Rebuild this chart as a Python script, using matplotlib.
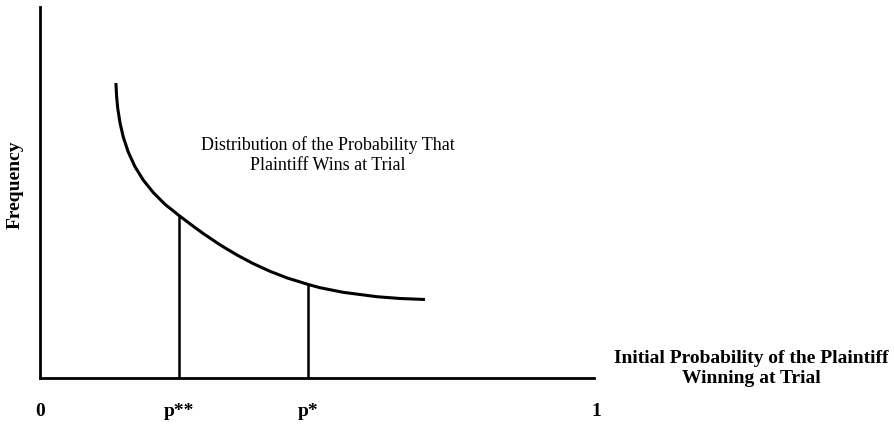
import matplotlib.pyplot as plt
import numpy as np

# curve (x: initial probability, y: relative frequency)
curve_x = [0.1365, 0.1379, 0.1397, 0.1439, 0.1498, 0.1588, 0.1709, 0.1858,
           0.2038, 0.2248, 0.2500, 0.2716, 0.2932, 0.3237, 0.3543, 0.3831,
           0.4137, 0.4442, 0.4820, 0.5036, 0.5450, 0.6061, 0.6475, 0.6924]
curve_y = [0.7951, 0.7574, 0.7278, 0.6876, 0.6493, 0.6089, 0.5693, 0.5334,
           0.4997, 0.4682, 0.4380, 0.4135, 0.3898, 0.3590, 0.3315, 0.3086,
           0.2876, 0.2698, 0.2523, 0.2434, 0.2310, 0.2191, 0.2143, 0.2116]

marker_x = [0.25, 0.482]
tick_pos = [0, 0.25, 0.482, 1]
tick_labels = ['0', 'p**', 'p*', '1']

plt.rcParams['font.family'] = ['Liberation Serif', 'DejaVu Serif']

W, H = 894, 425
fig = plt.figure(figsize=(W / 100, H / 100), dpi=100)
# axes box in pixels: x 40..596, y 7..378
ax = fig.add_axes([40 / W, (H - 378) / H, 556 / W, 371 / H])
ax.set_xlim(0, 1)
ax.set_ylim(0, 1)

for side in ['top', 'right']:
    ax.spines[side].set_visible(False)
ax.spines['left'].set_linewidth(2)
ax.spines['bottom'].set_linewidth(2)
ax.spines['bottom'].set_bounds(0, 0.996)
ax.set_xticks([])
ax.set_yticks([])

ax.plot(curve_x, curve_y, color='black', lw=2.2, solid_capstyle='butt',
        solid_joinstyle='round')

for mx in marker_x:
    top = np.interp(mx, curve_x, curve_y)
    ax.plot([mx, mx], [0, top], color='black', lw=1.8, solid_capstyle='butt')

for pos, lab in zip(tick_pos, tick_labels):
    ax.text(pos, -0.089, lab, ha='center', va='center', fontsize=14,
            fontweight='bold', clip_on=False)

ax.text(0.518, 0.60, 'Distribution of the Probability That\nPlaintiff Wins at Trial',
        ha='center', va='center', fontsize=13, linespacing=1.25)

ax.text(1.28, 0.026, 'Initial Probability of the Plaintiff\nWinning at Trial',
        ha='center', va='center', fontsize=14, fontweight='bold',
        linespacing=1.2, clip_on=False)

ax.text(-0.045, 0.52, 'Frequency', rotation=90, ha='center', va='center',
        fontsize=14, fontweight='bold', clip_on=False)

plt.savefig('out.png', dpi=100)
plt.close()
